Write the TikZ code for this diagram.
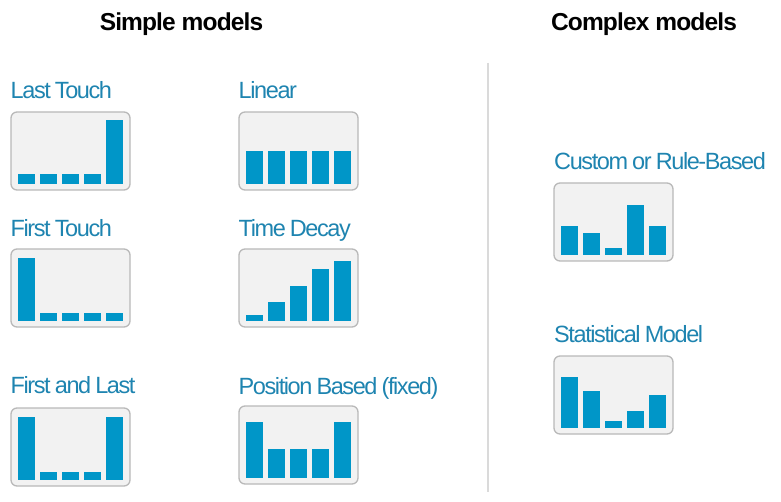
\documentclass[tikz,border=0pt]{standalone}
\usepackage{fontspec}
\setmainfont{Liberation Sans}
\newfontfamily\titlefont[LetterSpace=-6,WordSpace=0.8]{Liberation Sans}
\newfontfamily\headfont[LetterSpace=-3.5]{Liberation Sans}
\usetikzlibrary{calc}
\definecolor{barc}{RGB}{0,150,200}
\definecolor{titc}{RGB}{30,132,176}
\definecolor{boxfill}{RGB}{242,242,242}
\definecolor{boxline}{RGB}{185,185,185}
\definecolor{divc}{RGB}{218,218,218}
\newcommand\barsin[2]{\foreach \h [count=\i from 0] in {#2} {\fill[barc] ($(#1.south west)+(6.7+22*\i,-6)$) rectangle ++(17.3,-\h);}}
\begin{document}
\begin{tikzpicture}[x=1pt,y=-1pt,
  chartbox/.style={draw=boxline, fill=boxfill, line width=1.3pt, rounded corners=6pt,
    minimum width=119pt, minimum height=78pt, inner sep=0pt, outer sep=0pt, anchor=north west},
  title/.style={text=titc, font=\titlefont\fontsize{23.5}{26}\selectfont, inner sep=0pt, anchor=base west},
  head/.style={text=black, font=\headfont\bfseries\fontsize{24.5}{27}\selectfont, inner sep=0pt, anchor=base}]
\useasboundingbox (0,0) rectangle (781,502);
% headers
\node[head] (hs) at (181.5,31) {Simple models};
\node[head] (hc) at (644,31) {Complex models};
% divider
\coordinate (dtop) at (488,63);
\coordinate (dbot) at (488,492);
\draw[divc, line width=2pt] (dtop) -- (dbot);
% titles
\node[title] (tlt) at (10.5,99) {Last Touch};
\node[title] (tlin) at (238.5,99) {Linear};
\node[title] (tft) at (10.5,236.5) {First Touch};
\node[title] (ttd) at (238.5,236.5) {Time Decay};
\node[title] (tfl) at (10.5,393) {First and Last};
\node[title] (tpb) at (238.5,394) {Position Based (fixed)};
\node[title] (tcu) at (554,170) {Custom or Rule-Based};
\node[title] (tst) at (554,342.5) {Statistical Model};
% boxes
\node[chartbox] (blt) at (11,112) {};
\node[chartbox] (blin) at (239,112) {};
\node[chartbox] (bft) at (11,249) {};
\node[chartbox] (btd) at (239,249) {};
\node[chartbox] (bfl) at (11,408) {};
\node[chartbox] (bpb) at (239,406) {};
\node[chartbox] (bcu) at (554,183) {};
\node[chartbox] (bst) at (554,356) {};
% bars
\barsin{blt}{10,10,10,10,64}
\barsin{blin}{32.6,32.6,32.6,32.6,32.6}
\barsin{bft}{63,8,8,8,8}
\barsin{btd}{6.3,19,35,52,60}
\barsin{bfl}{63,8.3,8.3,8.3,63}
\barsin{bpb}{56,29,29,29,56}
\barsin{bcu}{29,22,7,50,29}
\barsin{bst}{51,37,7,17,33}
\end{tikzpicture}
\end{document}
